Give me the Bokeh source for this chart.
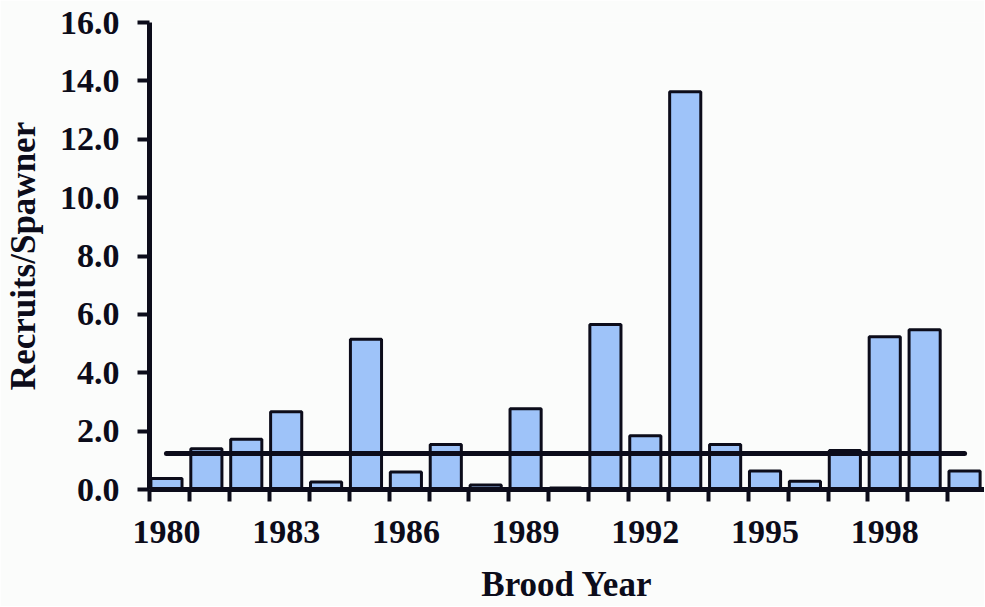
from bokeh.plotting import figure
from bokeh.models import FixedTicker, Range1d
from bokeh.embed import file_html
from bokeh.resources import INLINE

# ---- data ----
brood_years = list(range(1980, 2001))
recruits_per_spawner = [0.38, 1.40, 1.72, 2.66, 0.26, 5.15, 0.60, 1.54, 0.15, 2.77, 0.05,
                        5.65, 1.84, 13.63, 1.54, 0.63, 0.28, 1.34, 5.23, 5.47, 0.63]
ref_line_years = [1980, 2000]
ref_line_values = [1.23, 1.23]
y_tick_values = [0, 2, 4, 6, 8, 10, 12, 14, 16]
x_label_years = [1980, 1983, 1986, 1989, 1992, 1995, 1998]
x_title = "Brood Year"
y_title = "Recruits/Spawner"

BG = "#fbfcfb"
INK = "#0c0c1a"
FONT = "Liberation Serif"

p = figure(width=984, height=606, output_backend="svg", toolbar_location=None,
           x_range=Range1d(1979.575, 2000.5), y_range=Range1d(0, 16),
           min_border_left=147, min_border_right=0, min_border_top=22, min_border_bottom=116)
p.background_fill_color = BG
p.border_fill_color = BG
p.outline_line_color = None
p.grid.visible = False

p.vbar(x=brood_years, top=recruits_per_spawner, bottom=0, width=0.78,
       fill_color="#9ec3f9", line_color=INK, line_width=3)
p.line(ref_line_years, ref_line_values, line_width=5, line_color=INK, line_cap="round")

# x axis
xa = p.xaxis[0]
xa.ticker = FixedTicker(ticks=x_label_years, minor_ticks=[y - 0.42 for y in brood_years])
xa.axis_line_width = 5
xa.axis_line_color = INK
xa.major_tick_line_color = None
xa.major_tick_out = 12
xa.major_tick_in = 0
xa.minor_tick_line_color = INK
xa.minor_tick_line_width = 4
xa.minor_tick_out = 12
xa.minor_tick_in = 0
xa.major_label_standoff = 19
xa.major_label_text_font = FONT
xa.major_label_text_font_style = "bold"
xa.major_label_text_font_size = "34px"
xa.major_label_text_color = INK
xa.axis_label = x_title
xa.axis_label_text_font = FONT
xa.axis_label_text_font_style = "bold"
xa.axis_label_text_font_size = "35px"
xa.axis_label_text_color = INK
xa.axis_label_standoff = 19

# y axis
ya = p.yaxis[0]
ya.ticker = FixedTicker(ticks=y_tick_values, minor_ticks=[])
ya.major_label_overrides = {v: f"{v:.1f}" for v in y_tick_values}
ya.axis_line_width = 5
ya.axis_line_color = INK
ya.major_tick_line_color = INK
ya.major_tick_line_width = 4
ya.major_tick_out = 12
ya.major_tick_in = 0
ya.minor_tick_line_color = None
ya.major_label_standoff = 18
ya.major_label_text_font = FONT
ya.major_label_text_font_style = "bold"
ya.major_label_text_font_size = "34px"
ya.major_label_text_color = INK
ya.axis_label = y_title
ya.axis_label_text_font = FONT
ya.axis_label_text_font_style = "bold"
ya.axis_label_text_font_size = "35px"
ya.axis_label_text_color = INK
ya.axis_label_standoff = 14

open("out.html", "w").write(file_html(p, INLINE))
